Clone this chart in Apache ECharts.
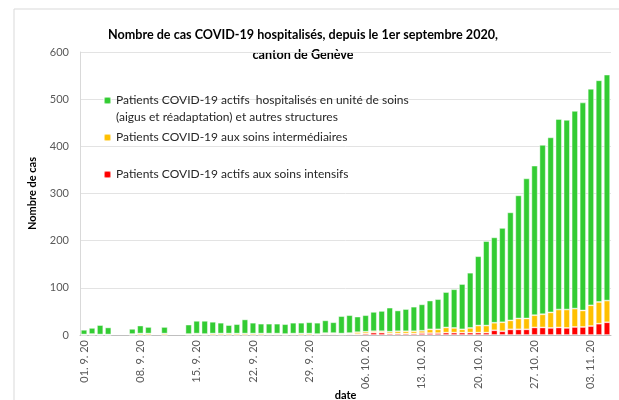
<!DOCTYPE html>
<html>
<head>
<meta charset="utf-8">
<script src="https://cdn.jsdelivr.net/npm/echarts@6/dist/echarts.min.js"></script>
<style>
  html, body { margin: 0; padding: 0; background: #fff; }
  #chart { width: 619px; height: 400px; }
</style>
</head>
<body>
<div id="chart"></div>
<script>
// dates, one per day (01.9.20 - 05.11.20)
const categories = [
  '01. 9. 20', '02. 9. 20', '03. 9. 20', '04. 9. 20', '05. 9. 20', '06. 9. 20', '07. 9. 20',
  '08. 9. 20', '09. 9. 20', '10. 9. 20', '11. 9. 20', '12. 9. 20', '13. 9. 20', '14. 9. 20',
  '15. 9. 20', '16. 9. 20', '17. 9. 20', '18. 9. 20', '19. 9. 20', '20. 9. 20', '21. 9. 20',
  '22. 9. 20', '23. 9. 20', '24. 9. 20', '25. 9. 20', '26. 9. 20', '27. 9. 20', '28. 9. 20',
  '29. 9. 20', '30. 9. 20', '01. 10. 20', '02. 10. 20', '03. 10. 20', '04. 10. 20', '05. 10. 20',
  '06. 10. 20', '07. 10. 20', '08. 10. 20', '09. 10. 20', '10. 10. 20', '11. 10. 20', '12. 10. 20',
  '13. 10. 20', '14. 10. 20', '15. 10. 20', '16. 10. 20', '17. 10. 20', '18. 10. 20', '19. 10. 20',
  '20. 10. 20', '21. 10. 20', '22. 10. 20', '23. 10. 20', '24. 10. 20', '25. 10. 20', '26. 10. 20',
  '27. 10. 20', '28. 10. 20', '29. 10. 20', '30. 10. 20', '31. 10. 20', '01. 11. 20', '02. 11. 20',
  '03. 11. 20', '04. 11. 20', '05. 11. 20'
];

// soins intensifs (rouge)
const intensifs = [
  0, 0, 0, 0, null, null, 0, 0, 0, null, 0, null, null, 0,
  1, 0, 0, 0, 0, 0, 0, 0, 0, 1, 1, 0, 1, 0, 0, 0,
  2, 2, 1, 2, 2, 3, 5, 5, 3, 3, 3, 3, 4, 4, 4, 5, 5, 5, 5, 5, 5,
  10, 8, 12, 12, 12, 16, 16, 15, 16, 15, 17, 17, 19, 24, 27
];

// soins intermédiaires (jaune)
const intermediaires = [
  1, 2, 1, 1, null, null, 2, 3, 3, null, 3, null, null, 2,
  2, 2, 3, 3, 3, 3, 3, 3, 3, 2, 2, 2, 2, 3, 3, 2,
  2, 2, 2, 2, 4, 4, 3, 3, 4, 5, 5, 5, 5, 8, 8, 11, 10, 7, 10, 15, 15,
  16, 19, 19, 23, 23, 26, 28, 33, 38, 39, 39, 35, 44, 46, 46
];

// unité de soins + autres structures (vert)
const unites = [
  10, 13, 20, 15, null, null, 11, 17, 14, null, 14, null, null, 20,
  27, 28, 25, 23, 18, 20, 30, 23, 21, 21, 21, 21, 23, 23, 24, 24,
  27, 23, 37, 38, 33, 35, 41, 43, 51, 44, 47, 52, 56, 61, 64, 75, 82, 96, 117, 147, 179,
  181, 200, 229, 261, 297, 317, 359, 371, 404, 402, 419, 441, 459, 470, 479
];

const names = [
  'Patients COVID-19 actifs  hospitalisés en unité de soins\n(aigus et réadaptation) et autres structures',
  'Patients COVID-19 aux soins intermédiaires',
  'Patients COVID-19 actifs aux soins intensifs'
];

const font = 'Lato, "Open Sans", sans-serif';
const chart = echarts.init(document.getElementById('chart'));

const legendBase = {
  orient: 'vertical',
  left: 103,
  padding: 0,
  itemWidth: 7,
  itemHeight: 7,
  itemGap: 6,
  textStyle: {fontFamily: font, fontSize: 12, color: '#262626', lineHeight: 17}
};

const barBase = {
  type: 'bar',
  stack: 'cas',
  barCategoryGap: '22%',
  itemStyle: {borderColor: 'rgba(255,255,255,0.55)', borderWidth: 0.8}
};

chart.setOption({
  animation: false,
  backgroundColor: '#ffffff',
  graphic: [{
    type: 'rect',
    shape: {x: 14, y: 9, width: 700, height: 500},
    style: {fill: 'none', stroke: '#d9d9d9', lineWidth: 1},
    silent: true
  }, {
    // titre sur deux lignes, centré
    type: 'text',
    x: 303,
    y: 45,
    silent: true,
    style: {
      text: 'Nombre de cas COVID-19 hospitalisés, depuis le 1er septembre 2020,\ncanton de Genève',
      align: 'center',
      verticalAlign: 'middle',
      lineHeight: 20,
      font: 'bold 12.6px ' + font,
      fill: '#000'
    }
  }],
  legend: [
    Object.assign({}, legendBase, {
      top: 75,
      // ligne vide en tête: l'icône reste alignée sur la première ligne
      formatter: function (name) { return ' \n' + name; },
      data: [names[0]]
    }),
    Object.assign({}, legendBase, {top: 129, data: [names[1]]}),
    Object.assign({}, legendBase, {top: 166, data: [names[2]]})
  ],
  grid: {left: 80, right: 8, top: 52, bottom: 65, outerBoundsMode: 'none'},
  xAxis: {
    type: 'category',
    data: categories,
    name: 'date',
    nameLocation: 'middle',
    nameGap: 55,
    nameMoveOverlap: false,
    nameTextStyle: {fontFamily: font, fontSize: 11, fontWeight: 'bold', color: '#000'},
    axisTick: {show: false},
    axisLine: {lineStyle: {color: '#bfbfbf'}},
    axisLabel: {
      interval: 6,
      rotate: 90,
      margin: 5,
      fontFamily: font,
      fontSize: 11,
      color: '#595959'
    }
  },
  yAxis: {
    type: 'value',
    min: 0,
    max: 600,
    interval: 100,
    name: 'Nombre de cas',
    nameLocation: 'middle',
    nameGap: 42,
    nameTextStyle: {fontFamily: font, fontSize: 11, fontWeight: 'bold', color: '#000'},
    axisLine: {show: true, lineStyle: {color: '#d9d9d9'}},
    axisLabel: {fontFamily: font, fontSize: 11, color: '#595959', margin: 11},
    splitLine: {lineStyle: {color: '#e3e3e3'}}
  },
  series: [
    Object.assign({}, barBase, {name: names[2], data: intensifs, color: '#ff0000'}),
    Object.assign({}, barBase, {name: names[1], data: intermediaires, color: '#ffc000'}),
    Object.assign({}, barBase, {name: names[0], data: unites, color: '#33cc33'})
  ]
});
</script>
</body>
</html>
